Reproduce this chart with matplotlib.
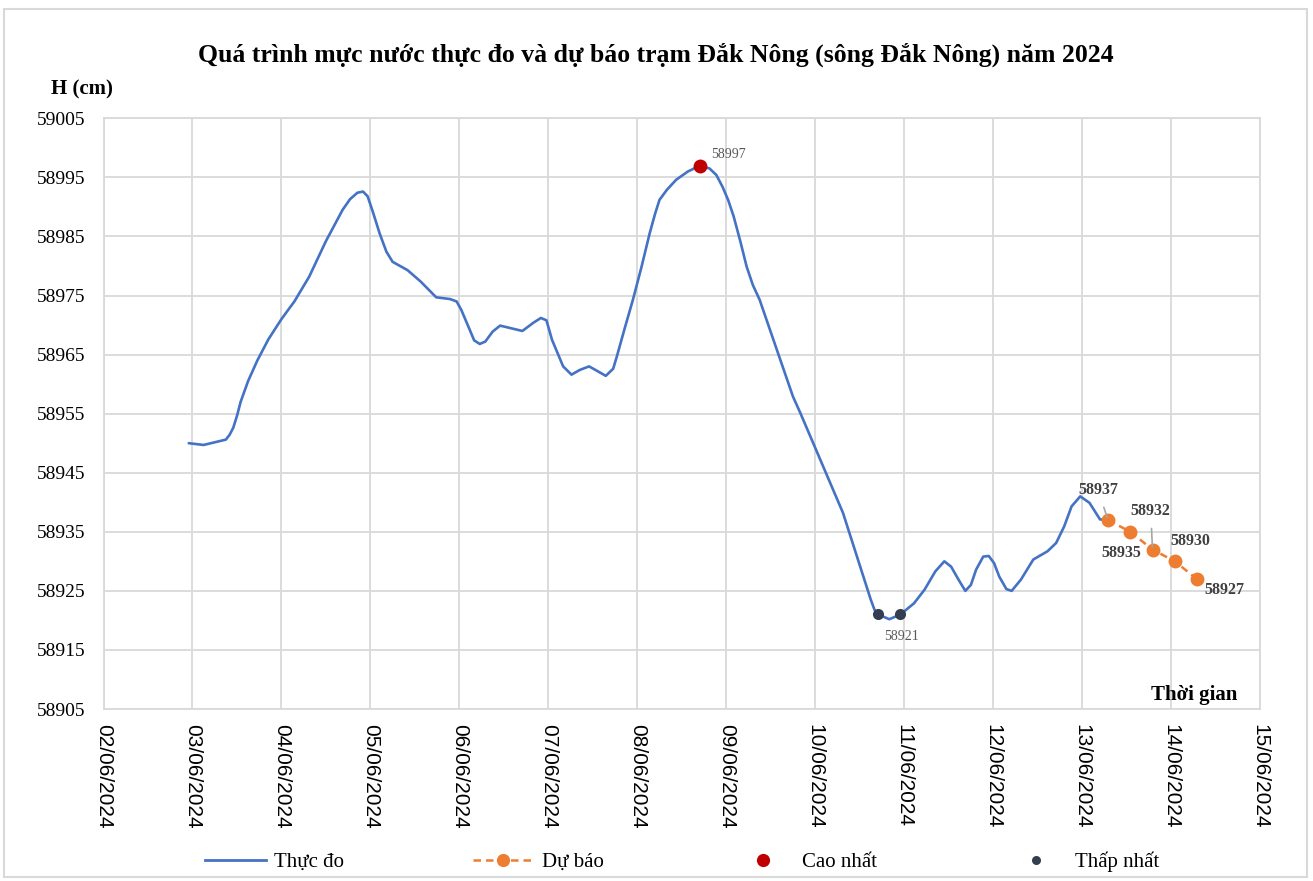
import matplotlib
matplotlib.use("Agg")
import matplotlib.pyplot as plt
from matplotlib.lines import Line2D
from matplotlib.patches import Rectangle
from datetime import datetime

# ---------------- data ----------------
obs_times = [
    "02/06/2024 23:00", "03/06/2024 03:00", "03/06/2024 09:00", "03/06/2024 10:00",
    "03/06/2024 11:00", "03/06/2024 12:00", "03/06/2024 13:00", "03/06/2024 15:00",
    "03/06/2024 17:30", "03/06/2024 20:30", "04/06/2024 00:00", "04/06/2024 03:30",
    "04/06/2024 07:30", "04/06/2024 12:00", "04/06/2024 16:30", "04/06/2024 18:30",
    "04/06/2024 20:30", "04/06/2024 22:00", "04/06/2024 23:15", "05/06/2024 00:45",
    "05/06/2024 02:30", "05/06/2024 04:20", "05/06/2024 06:00", "05/06/2024 10:00",
    "05/06/2024 13:30", "05/06/2024 17:45", "05/06/2024 21:30", "05/06/2024 23:15",
    "06/06/2024 00:30", "06/06/2024 03:00", "06/06/2024 04:00", "06/06/2024 05:30",
    "06/06/2024 07:00", "06/06/2024 09:00", "06/06/2024 11:00", "06/06/2024 13:00",
    "06/06/2024 17:00", "06/06/2024 20:00", "06/06/2024 22:00", "06/06/2024 23:30",
    "07/06/2024 01:00", "07/06/2024 04:00", "07/06/2024 06:15", "07/06/2024 08:30",
    "07/06/2024 11:00", "07/06/2024 13:00", "07/06/2024 15:30", "07/06/2024 17:30",
    "07/06/2024 18:30", "07/06/2024 20:30", "07/06/2024 22:50", "08/06/2024 01:10",
    "08/06/2024 03:20", "08/06/2024 04:50", "08/06/2024 06:00", "08/06/2024 08:00",
    "08/06/2024 10:30", "08/06/2024 13:40", "08/06/2024 17:00", "08/06/2024 19:30",
    "08/06/2024 21:20", "08/06/2024 23:00", "09/06/2024 00:30", "09/06/2024 02:00",
    "09/06/2024 03:50", "09/06/2024 05:30", "09/06/2024 07:10", "09/06/2024 09:00",
    "09/06/2024 18:00", "09/06/2024 20:00", "10/06/2024 07:30", "10/06/2024 15:00",
    "10/06/2024 16:00", "10/06/2024 17:00", "10/06/2024 20:00", "10/06/2024 23:00",
    "11/06/2024 02:40", "11/06/2024 05:30", "11/06/2024 08:25", "11/06/2024 10:50",
    "11/06/2024 12:40", "11/06/2024 14:40", "11/06/2024 16:30", "11/06/2024 18:00",
    "11/06/2024 19:25", "11/06/2024 21:20", "11/06/2024 22:50", "12/06/2024 00:15",
    "12/06/2024 01:40", "12/06/2024 03:35", "12/06/2024 05:00", "12/06/2024 07:30",
    "12/06/2024 10:50", "12/06/2024 14:40", "12/06/2024 17:00", "12/06/2024 19:10",
    "12/06/2024 21:10", "12/06/2024 23:30", "13/06/2024 02:00", "13/06/2024 04:50",
    "13/06/2024 07:00",
]
obs_values = [
    58950.0, 58949.7, 58950.6, 58951.4,
    58952.6, 58954.6, 58957.0, 58960.5,
    58964.0, 58967.6, 58971.0, 58974.0,
    58978.2, 58984.2, 58989.5, 58991.3,
    58992.4, 58992.6, 58991.8, 58989.0,
    58985.5, 58982.4, 58980.7, 58979.3,
    58977.4, 58974.7, 58974.4, 58974.0,
    58972.6, 58968.9, 58967.4, 58966.8,
    58967.2, 58968.9, 58969.9, 58969.6,
    58969.0, 58970.4, 58971.2, 58970.8,
    58967.5, 58963.0, 58961.6, 58962.4,
    58963.0, 58962.3, 58961.4, 58962.6,
    58964.7, 58969.2, 58974.3, 58979.9,
    58985.5, 58988.9, 58991.2, 58992.9,
    58994.6, 58996.0, 58997.0, 58996.5,
    58995.4, 58993.4, 58991.2, 58988.4,
    58984.1, 58979.9, 58976.8, 58974.3,
    58957.9, 58955.1, 58938.2, 58923.5,
    58921.8, 58921.0, 58920.2, 58921.0,
    58922.9, 58925.2, 58928.3, 58930.0,
    58929.1, 58926.9, 58925.0, 58926.0,
    58928.6, 58930.8, 58930.9, 58929.7,
    58927.4, 58925.3, 58925.0, 58926.9,
    58930.3, 58931.7, 58933.1, 58935.9,
    58939.3, 58941.0, 58939.9, 58937.1,
    58937.0,
]

fc_times = ["13/06/2024 07:00", "13/06/2024 13:00", "13/06/2024 19:00",
            "14/06/2024 01:00", "14/06/2024 07:00"]
fc_values = [58937, 58935, 58932, 58930, 58927]

max_times = ["08/06/2024 17:00"]
max_values = [58997]
min_times = ["10/06/2024 17:00", "10/06/2024 23:00"]
min_values = [58921, 58921]

x_tick_labels = ["02/06/2024", "03/06/2024", "04/06/2024", "05/06/2024", "06/06/2024",
                 "07/06/2024", "08/06/2024", "09/06/2024", "10/06/2024", "11/06/2024",
                 "12/06/2024", "13/06/2024", "14/06/2024", "15/06/2024"]
y_ticks = [58905, 58915, 58925, 58935, 58945, 58955, 58965, 58975, 58985, 58995, 59005]

title = "Quá trình mực nước thực đo và dự báo trạm Đắk Nông (sông Đắk Nông) năm 2024"
legend_labels = ["Thực đo", "Dự báo", "Cao nhất", "Thấp nhất"]

# ---------------- helpers ----------------
def parse(lst, fmt="%d/%m/%Y %H:%M"):
    return [datetime.strptime(s, fmt) for s in lst]

obs_t = parse(obs_times)
fc_t = parse(fc_times)
max_t = parse(max_times)
min_t = parse(min_times)
xt = parse(x_tick_labels, "%d/%m/%Y")

SERIF = "Liberation Serif"
SANS = "Liberation Sans"

C_OBS = "#4472C4"
C_FC = "#ED7D31"
C_MAX = "#C00000"
C_MIN = "#333F50"
C_GRID = "#D9D9D9"

W, H = 1313, 881
fig = plt.figure(figsize=(W / 100, H / 100), dpi=100)
fig.patch.set_facecolor("white")

# outer border
fig.patches.append(Rectangle((4 / W, 4 / H), 1303 / W, 868 / H, transform=fig.transFigure,
                             fill=False, edgecolor=C_GRID, linewidth=1.5))

L, R, T, B = 103.5, 1260, 118.3, 709
ax = fig.add_axes([L / W, 1 - B / H, (R - L) / W, (B - T) / H])

ax.plot(obs_t, obs_values, color=C_OBS, linewidth=1.9, zorder=3,
        solid_joinstyle="round", solid_capstyle="round")
ax.plot(fc_t, fc_values, color=C_FC, linewidth=1.8, linestyle=(0, (3, 2)), marker="o",
        markersize=10, markeredgewidth=0, zorder=4)
ax.plot(max_t, max_values, linestyle="none", marker="o", color=C_MAX, markersize=10,
        markeredgewidth=0, zorder=5)
ax.plot(min_t, min_values, linestyle="none", marker="o", color=C_MIN, markersize=8,
        markeredgewidth=0, zorder=5)

ax.set_xlim(xt[0], xt[-1])
ax.set_ylim(y_ticks[0], y_ticks[-1])
ax.set_xticks(xt)
ax.set_xticklabels(x_tick_labels, rotation=270, fontsize=15, family=SANS)
ax.set_yticks(y_ticks)
ax.set_yticklabels([str(v) for v in y_ticks], fontsize=14, family=SERIF)
ax.tick_params(axis="x", length=0, pad=11)
ax.tick_params(axis="y", length=0, pad=13)
ax.grid(True, color=C_GRID, linewidth=1.3)
ax.set_axisbelow(True)
for s in ax.spines.values():
    s.set_color(C_GRID)
    s.set_linewidth(1.3)

# annotations
ax.annotate(str(max_values[0]), xy=(max_t[0], max_values[0]), xytext=(20, 7.7),
            textcoords="offset points", ha="center", va="center", fontsize=10,
            family=SERIF, color="#595959", zorder=6)
ax.annotate(str(min_values[1]), xy=(min_t[1], min_values[1]), xytext=(0.6, -15.8),
            textcoords="offset points", ha="center", va="center", fontsize=10,
            family=SERIF, color="#595959", zorder=6)

fc_offsets = [(-7.2, 21.6), (-6.8, -15.6), (-1.3, 27.9), (11.3, 14.4), (19.6, -7.7)]
leaders = [True, False, True, False, False]
for t, v, off, lead in zip(fc_t, fc_values, fc_offsets, leaders):
    kw = {}
    if lead:
        kw["arrowprops"] = dict(arrowstyle="-", color="#A6A6A6", lw=1.2, shrinkA=5, shrinkB=2)
    ax.annotate(str(v), xy=(t, v), xytext=off, textcoords="offset points",
                ha="center", va="center", fontsize=11.5, family=SERIF, fontweight="bold",
                color="#404040", zorder=6, **kw)

# titles
fig.text(656 / W, 1 - 55 / H, title, ha="center", va="center", fontsize=18.5,
         fontweight="bold", family=SERIF, color="black")
fig.text(82 / W, 1 - 89 / H, "H (cm)", ha="center", va="center", fontsize=15,
         fontweight="bold", family=SERIF)
fig.text(1237 / W, 1 - 695 / H, "Thời gian", ha="right", va="center", fontsize=15,
         fontweight="bold", family=SERIF)

# legend
handles = [
    Line2D([], [], color=C_OBS, linewidth=2),
    Line2D([], [], color=C_FC, linewidth=1.8, linestyle=(0, (3, 2)), marker="o",
           markersize=9.5, markeredgewidth=0),
    Line2D([], [], color=C_MAX, linestyle="none", marker="o", markersize=9.5, markeredgewidth=0),
    Line2D([], [], color=C_MIN, linestyle="none", marker="o", markersize=6.5, markeredgewidth=0),
]
fig.legend(handles, legend_labels, loc="center", bbox_to_anchor=(682 / W, 1 - 862 / H), ncol=4,
           frameon=False, prop={"family": SERIF, "size": 15}, handlelength=2.9,
           handletextpad=0.4, columnspacing=6.2, borderpad=0, borderaxespad=0)

fig.savefig("out.png", dpi=100, facecolor="white")
